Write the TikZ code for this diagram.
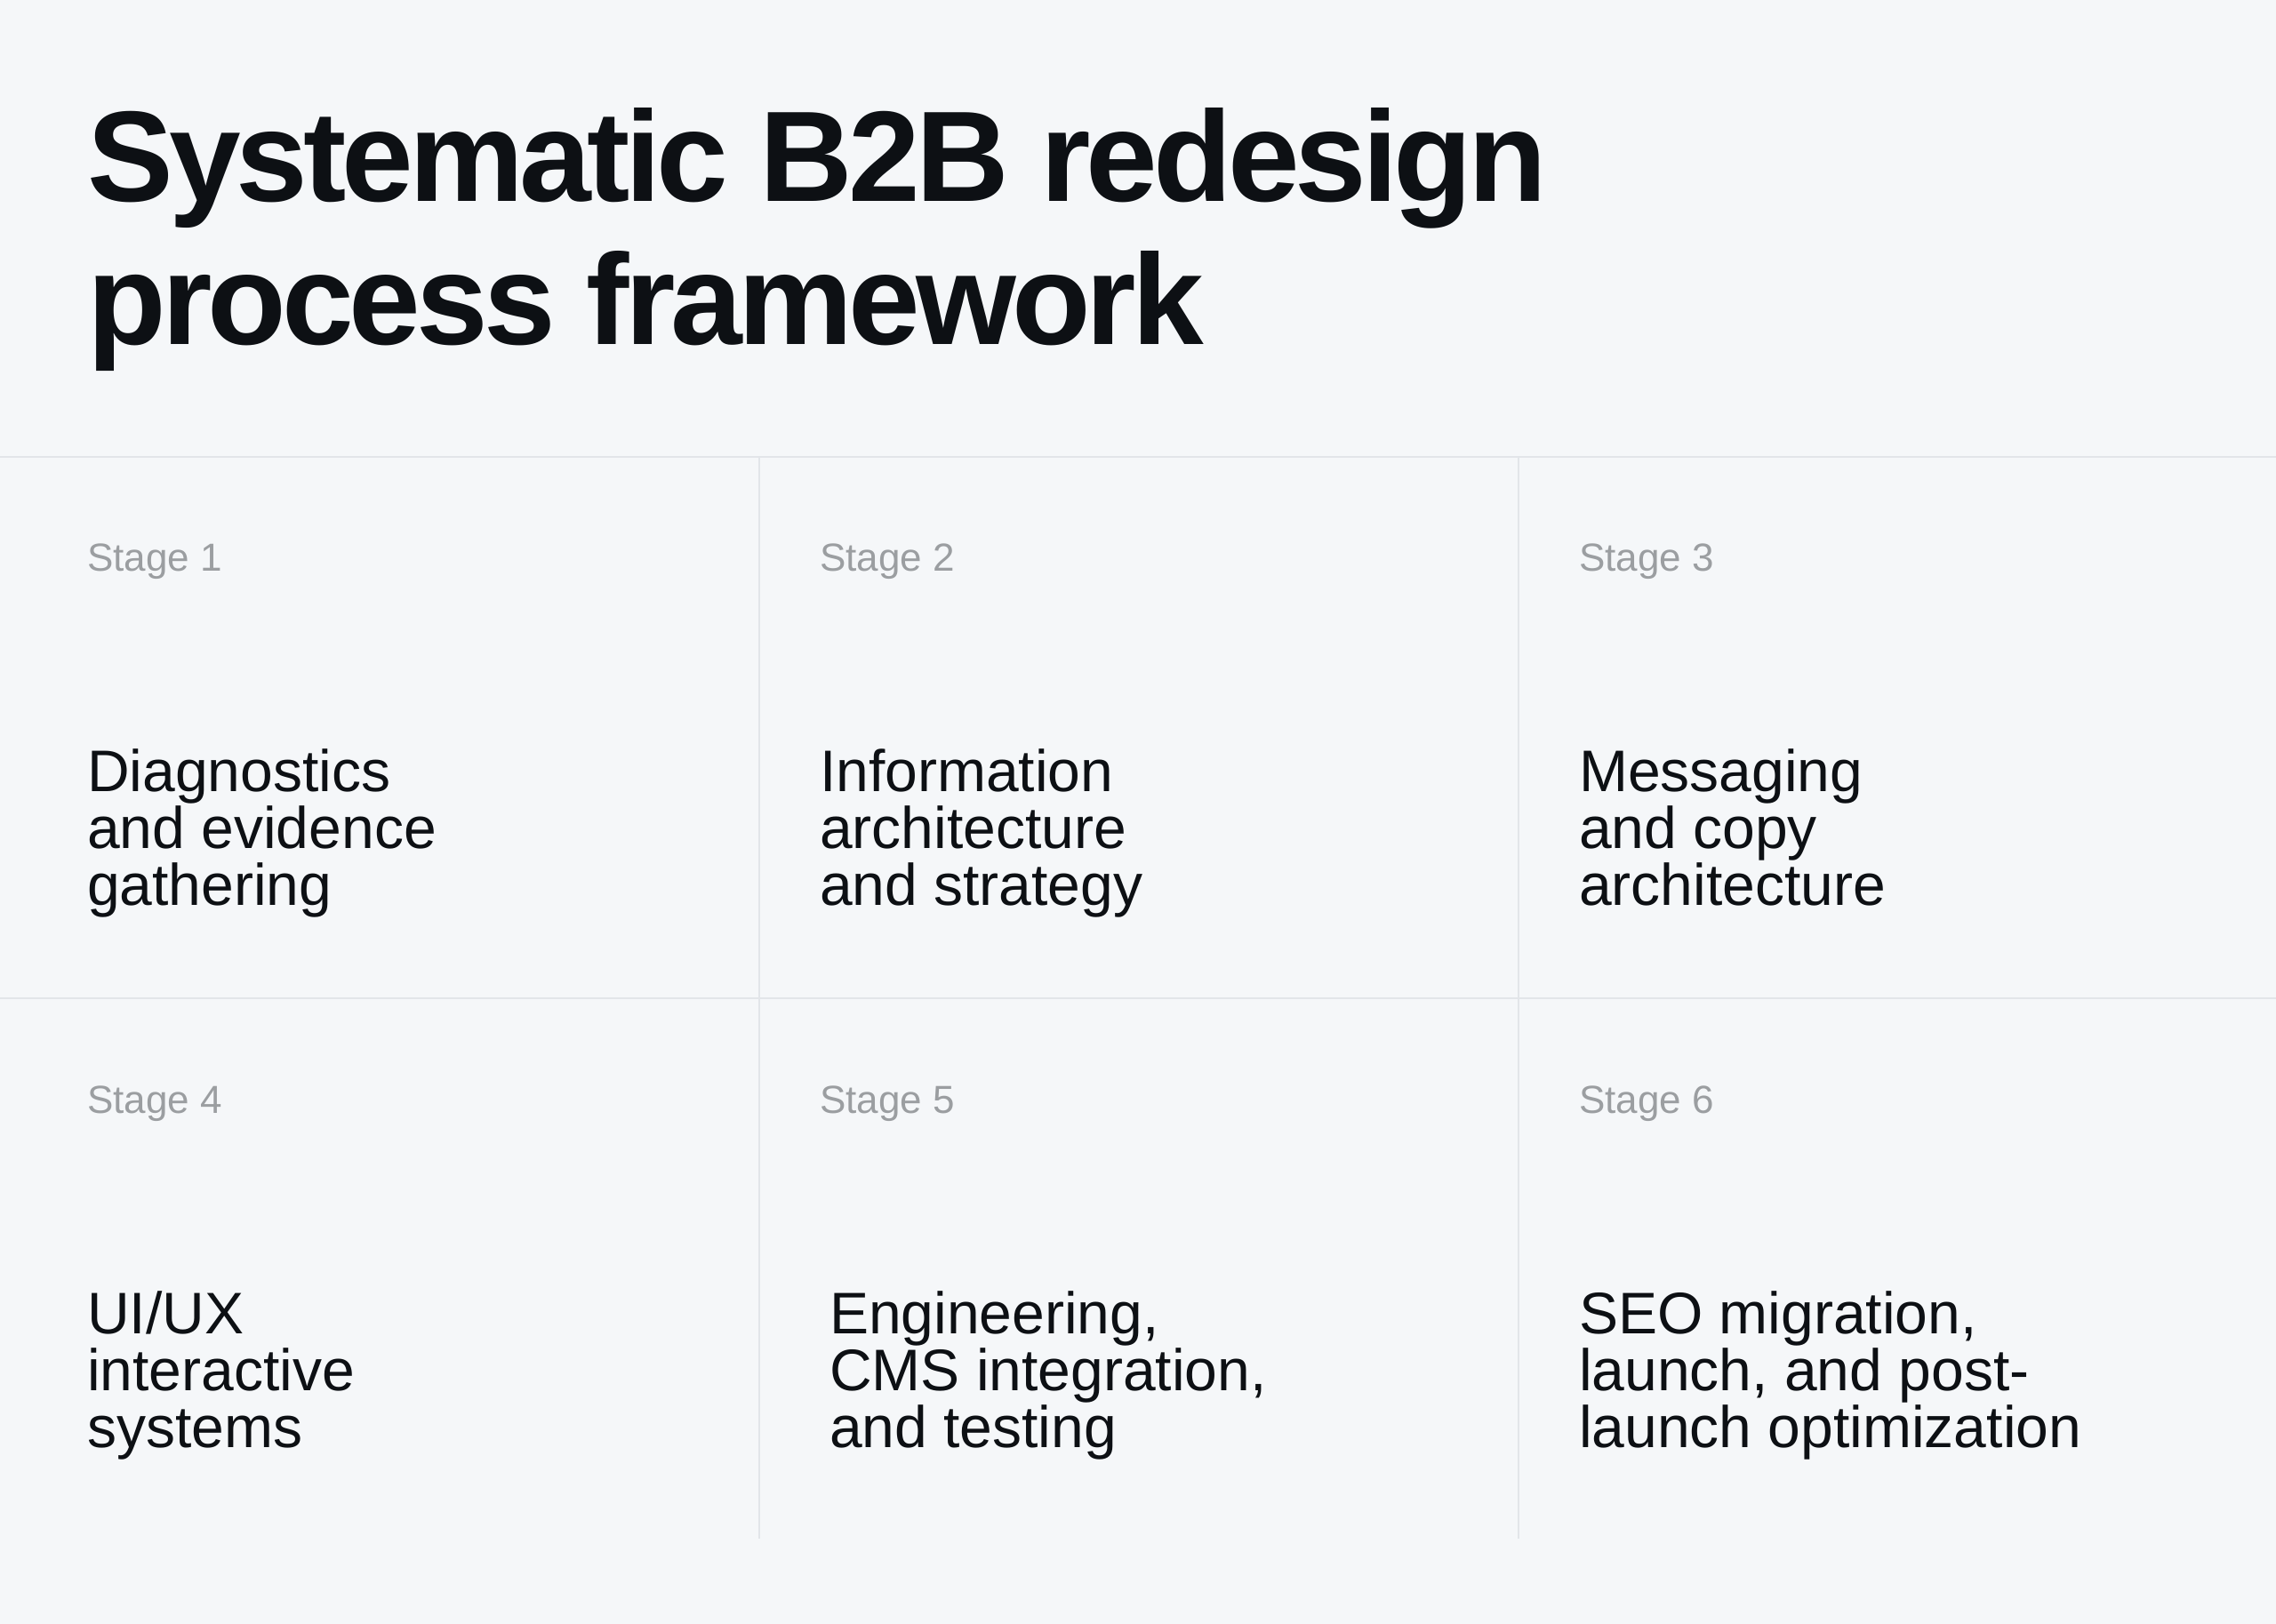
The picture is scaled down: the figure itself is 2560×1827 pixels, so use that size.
\documentclass[tikz,border=0pt]{standalone}
\usepackage{fontspec}
\setmainfont{Liberation Sans}
\newfontfamily\titlefont[LetterSpace=-3.4]{Liberation Sans}
\usetikzlibrary{positioning}
\definecolor{pagebg}{HTML}{F5F7F9}
\definecolor{gridline}{HTML}{E2E5E9}
\definecolor{stagegray}{HTML}{9B9EA1}
\definecolor{inkblack}{HTML}{0D1014}
\begin{document}
\begin{tikzpicture}
            [x=1pt, y=-1pt,
             title/.style = {anchor = base west, inner sep = 0pt, align = left, text = inkblack,
                             font = \titlefont\bfseries\fontsize{145}{161}\selectfont},
             stagelabel/.style = {anchor = base west, inner sep = 0pt, text = stagegray,
                                  font = \fontsize{44}{50}\selectfont},
             stagetext/.style = {anchor = base west, inner sep = 0pt, align = left, text = inkblack,
                                 font = \fontsize{66}{64}\selectfont},
             rule/.style = {draw = gridline, line width = 2pt}]
            \fill[pagebg] (0,0) rectangle (2560,1827);
            \useasboundingbox (0,0) rectangle (2560,1827);
            % base anchor sits on the last line
            \node[title] (title) at (98,388) {Systematic B2B redesign\\process framework};
            % grid
            \coordinate (L1) at (0,514);
            \coordinate (R1) at (2560,514);
            \coordinate (L2) at (0,1123);
            \coordinate (R2) at (2560,1123);
            \coordinate (T1) at (854,514);
            \coordinate (B1) at (854,1731);
            \coordinate (T2) at (1708,514);
            \coordinate (B2) at (1708,1731);
            \draw[rule] (L1) -- (R1);
            \draw[rule] (L2) -- (R2);
            \draw[rule] (T1) -- (B1);
            \draw[rule] (T2) -- (B2);
            % stages
            \node[stagelabel] (s1) at (98,642) {Stage 1};
            \node[stagelabel] (s2) at (922,642) {Stage 2};
            \node[stagelabel] (s3) at (1776,642) {Stage 3};
            \node[stagelabel] (s4) at (98,1252) {Stage 4};
            \node[stagelabel] (s5) at (922,1252) {Stage 5};
            \node[stagelabel] (s6) at (1776,1252) {Stage 6};
            \node[stagetext] (t1) at (98,1018) {Diagnostics\\and evidence\\gathering};
            \node[stagetext] (t2) at (922,1018) {Information\\architecture\\and strategy};
            \node[stagetext] (t3) at (1776,1018) {Messaging\\and copy\\architecture};
            \node[stagetext] (t4) at (98,1628) {UI/UX\\interactive\\systems};
            \node[stagetext] (t5) at (933,1628) {Engineering,\\CMS integration,\\and testing};
            \node[stagetext] (t6) at (1776,1628) {SEO migration,\\launch, and post-\\launch optimization};
        \end{tikzpicture}
\end{document}
